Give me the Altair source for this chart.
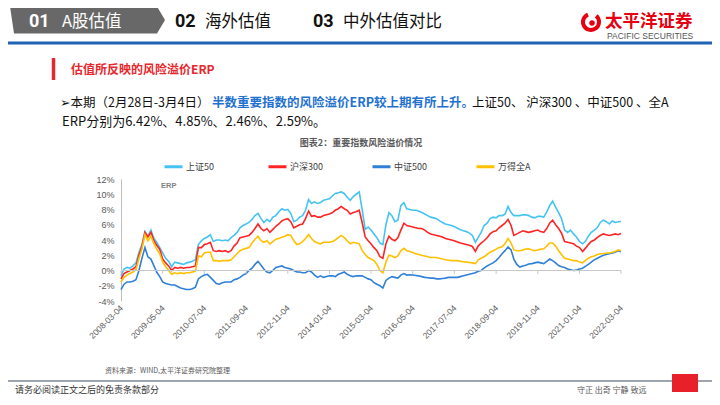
import altair as alt
import pandas as pd

# ---------------- data (monthly readings, 2008-03-04 .. 2022-03-04) ----------------
START = "2008-03-04"
N_MONTHS = 169

shangzheng50 = [
    -0.7, 0.2, 0.4, 0.3, 0.6, 1.0, 2.4, 3.4, 5.1, 4.5,
    5.3, 4.2, 3.7, 3.0, 2.3, 1.6, 1.2, 0.5, 1.1, 1.0,
    0.9, 0.8, 1.0, 1.1, 1.2, 1.4, 3.4, 3.9, 4.2, 4.4,
    4.7, 3.8, 4.0, 4.0, 3.9, 4.0, 3.9, 4.3, 4.6, 5.0,
    5.6, 5.9, 6.1, 6.3, 6.7, 7.2, 7.5, 6.8, 6.3, 6.7,
    6.4, 7.0, 7.2, 7.7, 8.1, 7.9, 8.0, 7.5, 6.4, 6.6,
    7.0, 7.2, 7.9, 9.3, 8.8, 9.0, 8.8, 8.9, 9.2, 9.3,
    9.4, 9.8, 10.1, 10.2, 10.3, 10.1, 9.6, 9.2, 9.7, 10.0,
    10.3, 8.0, 5.4, 5.7, 5.3, 4.8, 4.3, 3.6, 3.4, 6.0,
    7.6, 7.2, 6.4, 6.6, 8.5, 8.9, 8.1, 8.0, 7.9, 7.9,
    7.8, 7.6, 7.4, 7.2, 7.0, 6.9, 6.8, 6.5, 6.3, 6.1,
    6.0, 5.9, 5.75, 5.55, 5.35, 5.2, 5.1, 4.9, 4.6, 3.7,
    4.3, 5.0, 5.9, 6.2, 6.8, 7.0, 6.9, 7.2, 7.2, 7.4,
    8.4, 7.6, 7.2, 7.2, 7.2, 7.3, 7.3, 7.2, 7.0, 6.9,
    7.1, 7.1, 7.0, 7.7, 8.5, 9.1, 8.3, 7.6, 6.8, 5.3,
    5.0, 5.3, 4.8, 4.4, 3.8, 3.5, 3.8, 4.5, 5.0, 5.3,
    5.6, 6.3, 6.6, 6.4, 6.1, 6.5, 6.3, 6.4, 6.42,
]

hushen300 = [
    -1.1, -0.4, -0.2, 0.0, 0.2, 0.5, 2.0, 3.1, 5.0, 4.4,
    5.0, 3.9, 3.3, 2.8, 1.5, 1.0, 0.6, 0.0, 0.4, 0.3,
    0.4, 0.3, 0.4, 0.4, 0.5, 0.6, 3.0, 3.0, 3.4, 3.5,
    3.7, 2.6, 2.5, 2.6, 2.5, 2.6, 2.4, 2.6, 3.2, 3.6,
    4.3, 4.4, 4.5, 4.6, 5.0, 5.5, 6.1, 5.5, 5.2, 5.5,
    5.0, 5.4, 5.8, 6.1, 6.5, 6.7, 6.8, 6.4, 5.6, 5.8,
    6.0, 6.1, 6.8, 7.8, 7.1, 7.2, 7.0, 7.0, 7.2, 7.3,
    7.4, 7.6, 7.9, 8.1, 8.4, 8.1, 7.9, 7.4, 7.6, 7.7,
    7.9, 6.3, 4.4, 3.9, 3.5, 3.0, 2.6, 1.8, 1.6, 3.5,
    4.5, 4.1, 3.9, 4.3, 5.3, 6.2, 5.9, 5.8, 5.7, 5.6,
    5.5, 5.5, 5.3, 5.0, 4.8, 4.7, 4.6, 4.5, 4.4, 4.2,
    4.1, 4.0, 3.9, 3.75, 3.6, 3.5, 3.4, 3.3, 3.15, 2.5,
    3.2, 3.6, 3.9, 4.3, 4.8, 5.1, 5.2, 5.6, 5.9, 6.2,
    6.7, 5.9, 4.6, 4.8, 5.0, 5.2, 5.1, 5.0, 5.1, 5.2,
    5.3, 5.1, 5.0, 5.5, 6.2, 6.6, 6.0, 5.5, 4.9, 3.8,
    3.7, 3.6, 3.5, 3.2, 3.0, 2.5, 2.9, 3.4, 3.8, 4.0,
    4.3, 4.6, 4.8, 4.7, 4.6, 4.7, 4.8, 4.7, 4.85,
]

zhongzheng500 = [
    -2.5, -1.8, -1.5, -1.5, -1.4, -1.2, 0.0, 1.6, 3.0, 1.8,
    1.5, 0.6, -0.2, -0.8, -1.5, -1.7, -1.8, -1.9, -1.9, -2.1,
    -2.3, -2.4, -2.5, -2.5, -2.4, -2.2, -1.1, -0.8, -0.6, -0.5,
    -0.9, -1.3, -1.7, -1.8, -1.6, -1.5, -1.5, -1.5, -1.2, -1.1,
    -0.9, -0.6, -0.4, 0.0, 0.3, 0.8, 1.2, 0.7, 0.2, -0.2,
    -0.3, 0.0, 0.4, 0.5, 0.6, 0.4, 0.3, 0.2, 0.0, -0.2,
    -0.2, -0.3, -0.3, 0.0, -0.2, -0.6, -0.9, -0.7, -0.9, -0.8,
    -0.7, -0.7, -0.8, -0.5, -0.35, -0.2, -0.5, -0.7, -0.8, -0.7,
    -0.7, -0.7, -0.9, -1.1, -1.2, -1.6, -1.8, -2.0, -2.3, -1.3,
    -1.0, -0.8, -0.9, -1.0, -0.6, -0.4, -0.6, -0.55, -0.6, -0.65,
    -0.7, -0.8, -0.9, -0.95, -1.0, -1.0, -1.1, -1.1, -1.05, -1.0,
    -0.9, -0.9, -0.9, -0.9, -0.8, -0.7, -0.6, -0.5, -0.4, -0.3,
    -0.1, 0.0, 0.3, 0.6, 0.8, 1.0, 1.3, 1.7, 2.2, 2.6,
    3.1, 2.7, 1.5, 0.8, 0.45, 0.6, 0.7, 0.85, 0.9, 1.0,
    1.1, 1.0, 0.9, 1.2, 1.5, 1.3, 1.0, 0.65, 0.5, 0.4,
    0.2, 0.1, 0.0, 0.05, 0.2, 0.3, 0.55, 0.8, 1.1, 1.4,
    1.6, 1.8, 2.0, 2.1, 2.2, 2.3, 2.4, 2.6, 2.46,
]

wande_quanA = [
    -1.5, -0.9, -0.6, -0.4, -0.2, 0.1, 1.6, 2.8, 4.7, 3.9,
    4.5, 3.5, 2.8, 2.2, 1.1, 0.5, 0.0, -0.5, -0.3, -0.4,
    -0.3, -0.4, -0.3, -0.3, -0.2, -0.1, 1.9, 1.8, 2.3, 2.4,
    2.4, 1.3, 1.3, 1.2, 1.3, 1.3, 1.3, 1.4, 1.8, 2.2,
    2.6, 2.8, 2.9, 3.0, 3.6, 4.1, 4.5, 3.9, 3.7, 3.9,
    3.5, 3.8, 4.1, 4.2, 4.35, 4.5, 4.7, 4.6, 3.9, 3.4,
    3.5, 3.8, 4.2, 4.7, 4.2, 3.8, 3.6, 3.5, 3.7, 3.7,
    3.7, 3.8, 4.0, 4.3, 4.6, 4.3, 3.9, 3.5, 3.7, 3.6,
    3.5, 2.6, 2.1, 1.7, 1.5, 1.3, 0.8, 0.0, -0.3, 1.1,
    2.0, 1.9, 1.7, 1.9, 2.6, 2.9, 2.6, 2.5, 2.35, 2.2,
    2.1, 2.0, 1.9, 1.8, 1.7, 1.7, 1.7, 1.6, 1.5, 1.4,
    1.35, 1.3, 1.3, 1.3, 1.2, 1.15, 1.1, 1.05, 1.0, 0.9,
    1.4, 1.6, 1.8, 2.1, 2.4, 2.6, 2.8, 3.0, 3.1, 3.5,
    4.2, 3.6, 2.7, 2.6, 2.6, 2.7, 2.8, 2.85, 2.7, 2.6,
    2.7, 2.8, 2.85, 3.2, 3.6, 3.6, 3.2, 2.6, 2.1, 1.6,
    1.5, 1.4, 1.3, 1.3, 1.1, 1.0, 1.3, 1.6, 1.8, 1.9,
    2.1, 2.2, 2.2, 2.3, 2.3, 2.4, 2.5, 2.7, 2.59,
]

series_names = ["上证50", "沪深300", "中证500", "万得全A"]
series_colors = ["#45c3f3", "#ff2424", "#2f80d8", "#ffc000"]

tick_dates = ["2008-03-04", "2009-05-04", "2010-07-04", "2011-09-04", "2012-11-04",
              "2014-01-04", "2015-03-04", "2016-05-04", "2017-07-04", "2018-09-04",
              "2019-11-04", "2021-01-04", "2022-03-04"]
y_ticks = [-4, -2, 0, 2, 4, 6, 8, 10, 12]

# ---------------- tables ----------------
dates = pd.date_range(START, periods=N_MONTHS, freq=pd.DateOffset(months=1)).strftime("%Y-%m-%d")
rows = []
for name, vals in zip(series_names, [shangzheng50, hushen300, zhongzheng500, wande_quanA]):
    for d, v in zip(dates, vals):
        rows.append({"date": d, "series": name, "value": v})
df = pd.DataFrame(rows)


def dt(s):
    y, m, d = (int(p) for p in s.split("-"))
    return alt.DateTime(year=y, month=m, date=d, utc=True)


CJK = "Noto Sans CJK SC, DejaVu Sans"
LAT = "Liberation Sans, Arial"
NUM = "Liberation Sans Narrow, Roboto"
OX, OY = 121, 179  # page position of the plot origin
one = pd.DataFrame({"k": [0]})


def label(s, px, py, size, color, weight="normal", align="left", font=CJK, baseline="middle"):
    return alt.Chart(one).mark_text(
        text=s, align=align, baseline=baseline, fontSize=size, font=font,
        fontWeight=weight, color=color
    ).encode(x=alt.value(px - OX), y=alt.value(py - OY))


def hrule(px1, px2, py, color, width):
    return alt.Chart(one).mark_rule(color=color, strokeWidth=width).encode(
        x=alt.value(px1 - OX), x2=alt.value(px2 - OX), y=alt.value(py - OY))


def box(px1, px2, py1, py2, color):
    return alt.Chart(one).mark_rect(color=color).encode(
        x=alt.value(px1 - OX), x2=alt.value(px2 - OX),
        y=alt.value(py1 - OY), y2=alt.value(py2 - OY))


# ---------------- slide decorations ----------------
banner = alt.Chart(one).mark_point(
    shape="M-1,-0.174L0.897,-0.174L1,0L0.897,0.174L-0.948,0.174Z",
    filled=True, opacity=1, color="#686868", size=24025, strokeWidth=0
).encode(x=alt.value(87.5 - OX), y=alt.value(20 - OY))

logo_ring = alt.Chart(one).mark_arc(
    radius=10, radius2=6, theta=0.7, theta2=5.9, color="#e60012"
).encode(x=alt.value(591 - OX), y=alt.value(22 - OY))
logo_dot = alt.Chart(one).mark_point(
    shape="circle", filled=True, opacity=1, color="#e60012", size=30
).encode(x=alt.value(592 - OX), y=alt.value(23 - OY))

HY = 21.5
deco = [
    banner,
    label("01", 29, HY, 18, "white", "bold", font=NUM),
    label("A股估值", 62, HY, 16.5, "white"),
    label("02", 175, HY, 18, "#111111", "bold", font=NUM),
    label("海外估值", 205, HY, 16.5, "#111111"),
    label("03", 313, HY, 18, "#111111", "bold", font=NUM),
    label("中外估值对比", 343, HY, 16.5, "#111111"),
    logo_ring, logo_dot,
    label("太平洋证券", 605, 22, 17.5, "#e60012", "bold"),
    label("PACIFIC SECURITIES", 607, 36, 8.5, "#555555", font=LAT),
    hrule(8, 712, 43, "#1f63b4", 3),
    alt.Chart(one).mark_rule(color="#e8262d", strokeWidth=3.5).encode(
        x=alt.value(53.5 - OX), y=alt.value(58 - OY), y2=alt.value(80 - OY)),
    label("估值所反映的风险溢价ERP", 71, 70, 12, "#e8262d", "bold"),
    label("➢本期（2月28日-3月4日）", 60, 103, 12.5, "#111111"),
    label("半数重要指数的风险溢价ERP较上期有所上升。", 212, 103, 12.5, "#1f72d0", "bold"),
    label("上证50、 沪深300 、中证500 、全A", 472, 103, 12.5, "#111111"),
    label("ERP分别为6.42%、4.85%、2.46%、2.59%。", 62, 122, 13, "#111111"),
    label("图表2：重要指数风险溢价情况", 361, 143, 9, "#595959", "bold", align="center"),
    label("资料来源：WIND,太平洋证券研究院整理", 105, 371, 7, "#595959"),
    hrule(8, 712, 381, "#3f4d63", 1.2),
    label("请务必阅读正文之后的免责条款部分", 15, 390, 9, "#333333"),
    label("守正  出奇  宁静  致远", 577, 391, 8, "#555555"),
    box(672, 698, 374, 392, "#e8202a"),
]

# ---------------- chart ----------------
x_scale = alt.Scale(type="utc", domain=[dt(tick_dates[0]), dt(tick_dates[-1])])
x_axis = alt.Axis(values=[dt(s) for s in tick_dates],
                  labelExpr="utcFormat(datum.value, '%Y-%m-%d')",
                  labelAngle=315, labelAlign="right", labelBaseline="middle",
                  labelPadding=5, labelFontSize=8.5, labelFont=LAT, labelColor="#595959",
                  domain=False, ticks=False, grid=False, title=None, labelOverlap=False)
y_scale = alt.Scale(domain=[-4, 12], nice=False, zero=False)
y_axis = alt.Axis(values=y_ticks, labelExpr="datum.value + '%'", grid=False, ticks=False,
                  domainColor="#bfbfbf", labelPadding=7, labelFontSize=9, labelFont=LAT,
                  labelColor="#595959", title=None, labelOverlap=False,
                  labelFlush=False, labelBound=False)

zero_line = alt.Chart(pd.DataFrame({"v": [0]})).mark_rule(color="#c8c8c8", strokeWidth=1).encode(
    y=alt.Y("v:Q", scale=y_scale, axis=y_axis))

ticks_df = pd.DataFrame({"date": tick_dates, "top": [0] * len(tick_dates),
                         "bottom": [-0.45] * len(tick_dates)})
tick_marks = alt.Chart(ticks_df).mark_rule(color="#c8c8c8", strokeWidth=1).encode(
    x=alt.X("date:T", scale=x_scale, axis=x_axis),
    y=alt.Y("top:Q", scale=y_scale, axis=y_axis),
    y2="bottom:Q")

lines = alt.Chart(df).mark_line(strokeWidth=1.6).encode(
    x=alt.X("date:T", scale=x_scale, axis=x_axis),
    y=alt.Y("value:Q", scale=y_scale, axis=y_axis),
    color=alt.Color(
        "series:N",
        scale=alt.Scale(domain=series_names, range=series_colors),
        legend=alt.Legend(orient="none", legendX=42, legendY=-23, direction="horizontal",
                          columns=4, title=None, symbolType="stroke", symbolStrokeWidth=3,
                          symbolSize=324, labelFontSize=9, labelFont=CJK, labelColor="#404040",
                          columnPadding=43, gridAlign="all", labelOffset=2, padding=0),
    ),
)

erp_note = label("ERP", 161, 186, 7.5, "#7f7f7f", "bold", font=LAT)

chart = alt.layer(lines, *deco, zero_line, tick_marks, erp_note).properties(
    width=500, height=122,
    padding={"left": OX - 8, "top": OY - 8, "right": 704 - (OX - 8) - 500, "bottom": 389 - (OY - 8) - 122},
    autosize=alt.AutoSizeParams(type="none"),
    background="white",
).configure_view(stroke=None).configure_axis(labelOverlap=False)

chart.save("out.html", embed_options={"renderer": "svg", "actions": False})
